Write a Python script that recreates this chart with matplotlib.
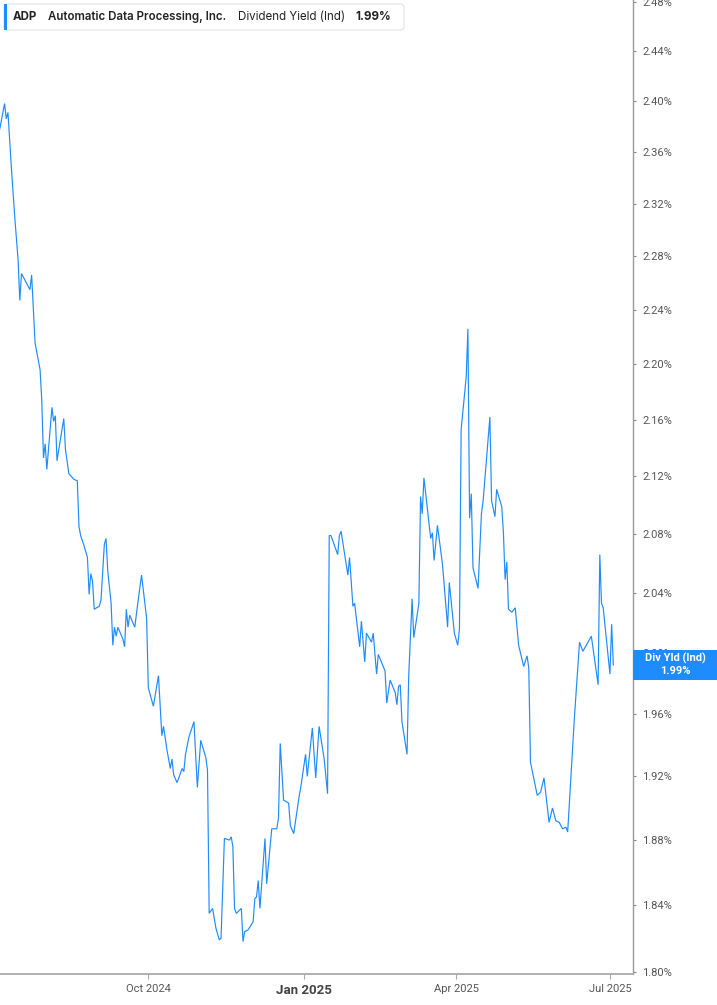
import matplotlib
matplotlib.use('Agg')
import matplotlib.pyplot as plt
import matplotlib.dates as mdates
from matplotlib.patches import FancyBboxPatch, Rectangle
from matplotlib.ticker import FixedLocator, FuncFormatter, NullLocator
import pandas as pd

# data (vertices of the daily line)
dates = [
    '2024-07-05', '2024-07-08', '2024-07-09', '2024-07-10', '2024-07-12', '2024-07-14', '2024-07-16', '2024-07-17',
    '2024-07-18', '2024-07-23', '2024-07-24', '2024-07-26', '2024-07-29', '2024-07-30', '2024-07-31',
    '2024-08-01', '2024-08-02', '2024-08-05', '2024-08-06', '2024-08-07', '2024-08-08', '2024-08-12', '2024-08-13',
    '2024-08-15', '2024-08-18', '2024-08-20', '2024-08-21', '2024-08-22', '2024-08-24', '2024-08-26', '2024-08-27',
    '2024-08-28', '2024-08-29', '2024-08-30',
    '2024-09-02', '2024-09-03', '2024-09-05', '2024-09-06', '2024-09-07', '2024-09-09', '2024-09-10', '2024-09-11',
    '2024-09-12', '2024-09-13', '2024-09-16', '2024-09-17', '2024-09-18', '2024-09-19', '2024-09-20', '2024-09-23',
    '2024-09-25', '2024-09-27', '2024-09-30',
    '2024-10-01', '2024-10-04', '2024-10-07', '2024-10-09', '2024-10-10', '2024-10-12', '2024-10-14', '2024-10-15',
    '2024-10-16', '2024-10-18', '2024-10-21', '2024-10-22', '2024-10-23', '2024-10-25', '2024-10-28', '2024-10-30',
    '2024-11-01', '2024-11-04', '2024-11-05', '2024-11-06', '2024-11-08', '2024-11-10', '2024-11-12', '2024-11-13',
    '2024-11-15', '2024-11-18', '2024-11-19', '2024-11-20', '2024-11-21', '2024-11-22', '2024-11-25', '2024-11-26',
    '2024-11-27', '2024-11-29',
    '2024-12-02', '2024-12-03', '2024-12-04', '2024-12-05', '2024-12-06', '2024-12-09', '2024-12-10', '2024-12-13',
    '2024-12-16', '2024-12-17', '2024-12-18', '2024-12-20', '2024-12-23', '2024-12-24', '2024-12-26', '2024-12-29',
    '2024-12-30',
    '2025-01-02', '2025-01-03', '2025-01-06', '2025-01-08', '2025-01-10', '2025-01-13', '2025-01-15', '2025-01-16',
    '2025-01-17', '2025-01-21', '2025-01-22', '2025-01-23', '2025-01-27', '2025-01-28', '2025-01-30', '2025-01-31',
    '2025-02-03', '2025-02-04', '2025-02-06', '2025-02-07', '2025-02-10', '2025-02-11', '2025-02-13', '2025-02-14',
    '2025-02-18', '2025-02-19', '2025-02-21', '2025-02-24', '2025-02-25', '2025-02-26', '2025-02-27', '2025-02-28',
    '2025-03-03', '2025-03-04', '2025-03-06', '2025-03-07', '2025-03-10', '2025-03-11', '2025-03-12', '2025-03-13',
    '2025-03-17', '2025-03-18', '2025-03-19', '2025-03-21', '2025-03-24', '2025-03-27', '2025-03-28', '2025-03-31',
    '2025-04-02', '2025-04-03', '2025-04-04', '2025-04-07', '2025-04-08', '2025-04-09', '2025-04-10', '2025-04-11',
    '2025-04-14', '2025-04-16', '2025-04-17', '2025-04-21', '2025-04-22', '2025-04-24', '2025-04-25', '2025-04-28',
    '2025-04-29', '2025-04-30',
    '2025-05-01', '2025-05-02', '2025-05-04', '2025-05-06', '2025-05-08', '2025-05-11', '2025-05-13', '2025-05-14',
    '2025-05-15', '2025-05-19', '2025-05-21', '2025-05-23', '2025-05-26', '2025-05-28', '2025-05-30',
    '2025-06-01', '2025-06-03', '2025-06-05', '2025-06-06', '2025-06-10', '2025-06-13', '2025-06-15', '2025-06-18',
    '2025-06-20', '2025-06-24', '2025-06-25', '2025-06-26', '2025-06-27',
    '2025-07-01', '2025-07-02', '2025-07-03',
]

div_yield = [
    2.377, 2.398, 2.386, 2.391, 2.348, 2.310, 2.277, 2.247, 2.267, 2.255, 2.266, 2.216, 2.196, 2.174, 2.133,
    2.143, 2.125, 2.169, 2.159, 2.163, 2.131, 2.161, 2.139, 2.122, 2.118, 2.117, 2.085, 2.079, 2.072, 2.064,
    2.039, 2.053, 2.048, 2.029,
    2.031, 2.035, 2.073, 2.077, 2.055, 2.033, 2.005, 2.017, 2.011, 2.017, 2.009, 2.004, 2.029, 2.017, 2.025,
    2.017, 2.035, 2.052, 2.023,
    1.977, 1.965, 1.985, 1.946, 1.952, 1.937, 1.925, 1.931, 1.921, 1.916, 1.925, 1.923, 1.934, 1.945, 1.955, 1.913,
    1.943, 1.932, 1.924, 1.835, 1.838, 1.826, 1.819, 1.820, 1.881, 1.880, 1.882, 1.876, 1.838, 1.835, 1.838,
    1.818, 1.824, 1.825,
    1.830, 1.844, 1.845, 1.855, 1.838, 1.881, 1.853, 1.887, 1.887, 1.894, 1.941, 1.905, 1.903, 1.889, 1.884,
    1.906, 1.912,
    1.934, 1.920, 1.951, 1.919, 1.952, 1.931, 1.909, 2.079, 2.079, 2.066, 2.079, 2.082, 2.052, 2.064, 2.031, 2.033,
    2.004, 2.021, 1.994, 2.013, 2.007, 2.013, 1.986, 1.999, 1.988, 1.967, 1.982, 1.974, 1.966, 1.978, 1.979, 1.955,
    1.934, 1.985, 2.036, 2.010, 2.033, 2.106, 2.094, 2.119, 2.077, 2.081, 2.062, 2.086, 2.059, 2.017, 2.047, 2.013,
    2.005, 2.016, 2.153, 2.191, 2.226, 2.091, 2.108, 2.057, 2.043, 2.094, 2.103, 2.162, 2.103, 2.092, 2.111,
    2.099, 2.081, 2.049,
    2.061, 2.029, 2.027, 2.030, 2.005, 1.991, 1.998, 1.990, 1.929, 1.908, 1.910, 1.919, 1.891, 1.900, 1.892,
    1.891, 1.887, 1.888, 1.885, 1.958, 2.007, 2.001, 2.007, 2.011, 1.979, 2.066, 2.033, 2.030,
    1.986, 2.019, 1.992,
]

y_ticks = [1.80, 1.84, 1.88, 1.92, 1.96, 2.00, 2.04, 2.08, 2.12, 2.16, 2.20, 2.24, 2.28, 2.32, 2.36, 2.40, 2.44, 2.48]
x_ticks = ['2024-10-01', '2025-01-01', '2025-04-01', '2025-07-01']
x_tick_labels = ['Oct 2024', 'Jan 2025', 'Apr 2025', 'Jul 2025']
ticker = 'ADP'
company = 'Automatic Data Processing, Inc.'
metric = 'Dividend Yield (Ind)'
latest = 1.99

BLUE = '#1e8bff'
W, H = 717, 1005

plt.rcParams['font.family'] = ['Roboto', 'DejaVu Sans']

fig = plt.figure(figsize=(W / 100, H / 100), dpi=100)
ax = fig.add_axes([0, 31 / H, 632.7 / W, 974 / H])

x = pd.to_datetime(dates)
ax.plot(x, div_yield, color=BLUE, lw=0.85, solid_joinstyle='miter')

ax.set_yscale('log')
ax.set_ylim(1.7986, 2.4815)
ax.set_xlim(pd.Timestamp('2024-07-05 07:00'), pd.Timestamp('2025-07-14 11:00'))

ax.yaxis.tick_right()
ax.yaxis.set_major_locator(FixedLocator(y_ticks))
ax.yaxis.set_minor_locator(NullLocator())
ax.yaxis.set_major_formatter(FuncFormatter(lambda v, p: f'{v:.2f}%'))
ax.tick_params(axis='y', length=2.2, width=0.8, color='#888888', pad=4.5,
               labelsize=8, labelcolor='#555555')

ax.set_xticks(pd.to_datetime(x_ticks))
ax.set_xticklabels(x_tick_labels)
ax.xaxis.set_minor_locator(NullLocator())
ax.tick_params(axis='x', length=3.6, width=0.8, color='#aaaaaa', pad=3.5,
               labelsize=8, labelcolor='#555555')
jan = ax.get_xticklabels()[1]
jan.set_fontweight('bold')
jan.set_fontsize(9.5)
jan.set_color('#444444')

for side in ['top', 'left']:
    ax.spines[side].set_visible(False)
ax.spines['bottom'].set_color('#aaaaaa')
ax.spines['bottom'].set_linewidth(1.3)
ax.spines['right'].set_color('#999999')
ax.spines['right'].set_linewidth(1.0)


def fx(px):
    return px / W


def fy(py):
    return 1 - py / H


# header box top-left
box = FancyBboxPatch((fx(4), fy(30)), fx(400), 26 / H, boxstyle='round,pad=0,rounding_size=0.004',
                     transform=fig.transFigure, fc='white', ec='#e3e3e3', lw=0.8, zorder=5)
fig.add_artist(box)
fig.add_artist(Rectangle((fx(4), fy(30)), fx(3), 26 / H, transform=fig.transFigure,
                         fc=BLUE, ec='none', zorder=6))
hdr = dict(va='center', ha='left', fontsize=8.3, color='#222222', family=['Inter', 'DejaVu Sans'], zorder=7)
fig.text(fx(13), fy(17), ticker, fontweight='bold', **hdr)
fig.text(fx(48), fy(17), company, fontweight='semibold', **hdr)
fig.text(fx(238), fy(17), metric, **hdr)
fig.text(fx(355), fy(17), f'{latest:.2f}%', fontweight='bold', **hdr)

# last value tag on the right axis, centred on the final point
last_num = mdates.date2num(x[-1])
y_disp = ax.transData.transform((last_num, div_yield[-1]))[1]
tag_y = y_disp / H
fig.add_artist(Rectangle((fx(632.7), tag_y - 15 / H), 1 - fx(632.7), 30 / H,
                         transform=fig.transFigure, fc=BLUE, ec='none', zorder=8))
fig.text(fx(675), tag_y + 6.5 / H, 'Div Yld (Ind)', ha='center', va='center', color='white',
         fontsize=8, fontweight='bold', zorder=9)
fig.text(fx(675), tag_y - 6.5 / H, f'{latest:.2f}%', ha='center', va='center', color='white',
         fontsize=8, fontweight='bold', zorder=9)

fig.savefig('out.png', dpi=100)
